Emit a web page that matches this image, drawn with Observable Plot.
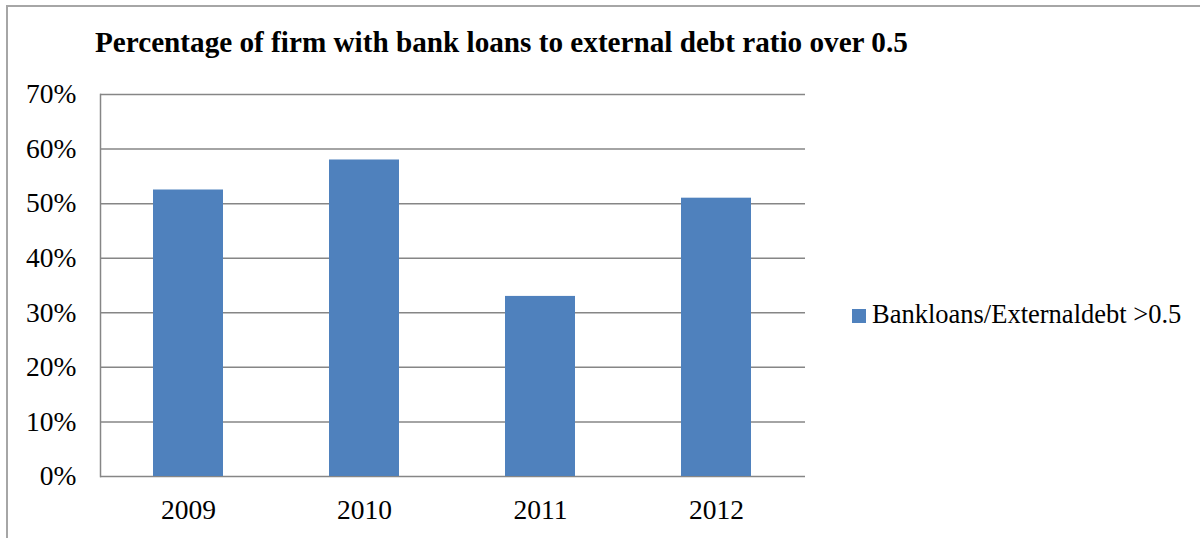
<!DOCTYPE html>
<html><head><meta charset="utf-8">
<script src="https://cdn.jsdelivr.net/npm/d3@7"></script>
<script src="https://cdn.jsdelivr.net/npm/@observablehq/plot@0.6"></script>
<style>
body{margin:0;background:#fff;}
#wrap{position:relative;width:1200px;height:538px;overflow:hidden;font-family:"Liberation Serif","Times New Roman",serif;color:#000;}
#frame{position:absolute;left:6px;top:5px;width:1300px;height:700px;border:2px solid #a6a6a6;box-sizing:border-box;}
#title{position:relative;height:70px;box-sizing:border-box;padding-left:95px;padding-top:26px;font-weight:bold;font-size:29.2px;line-height:32px;white-space:nowrap;}
#chart{position:relative;height:468px;}
#legend-swatch{position:absolute;left:852px;top:309px;width:14px;height:14px;}
#legend-text{position:absolute;left:872px;top:301px;font-size:26.5px;line-height:27px;white-space:nowrap;}
</style>
</head><body>
<div id="wrap">
  <div id="frame"></div>
  <div id="title"></div>
  <div id="chart"></div>
  <div id="legend-swatch"></div>
  <div id="legend-text"></div>
</div>
<script>
const titleText = "Percentage of firm with bank loans to external debt ratio over 0.5";
const seriesName = "Bankloans/Externaldebt >0.5";
const years = ["2009", "2010", "2011", "2012"];
const shares = [0.525, 0.58, 0.33, 0.51];
const yTicks = [0, 0.1, 0.2, 0.3, 0.4, 0.5, 0.6, 0.7];
const barColor = "#4F81BD";
const gridColor = "#868686";

const data = years.map((y, i) => ({year: y, share: shares[i]}));

document.getElementById("title").textContent = titleText;
document.getElementById("legend-text").textContent = seriesName;
document.getElementById("legend-swatch").style.background = barColor;

const chart = Plot.plot({
  width: 1200,
  height: 468,
  marginTop: 24,
  marginBottom: 62,
  marginLeft: 100,
  marginRight: 395,
  style: {fontFamily: '"Liberation Serif","Times New Roman",serif', fontSize: "27.5px", color: "#000", background: "transparent", overflow: "visible"},
  x: {domain: years, paddingInner: 0.6, paddingOuter: 0.3, label: null, tickSize: 0, tickPadding: 23},
  y: {domain: [0, 0.7], ticks: yTicks, tickFormat: d3.format(".0%"), label: null, tickSize: 0, tickPadding: 24},
  marks: [
    Plot.ruleY(yTicks, {stroke: gridColor, strokeWidth: 1.5}),
    Plot.frame({anchor: "left", stroke: gridColor, strokeWidth: 1.5}),
    Plot.barY(data, {x: "year", y: "share", fill: barColor})
  ]
});
document.getElementById("chart").appendChild(chart);
</script>
</body></html>
